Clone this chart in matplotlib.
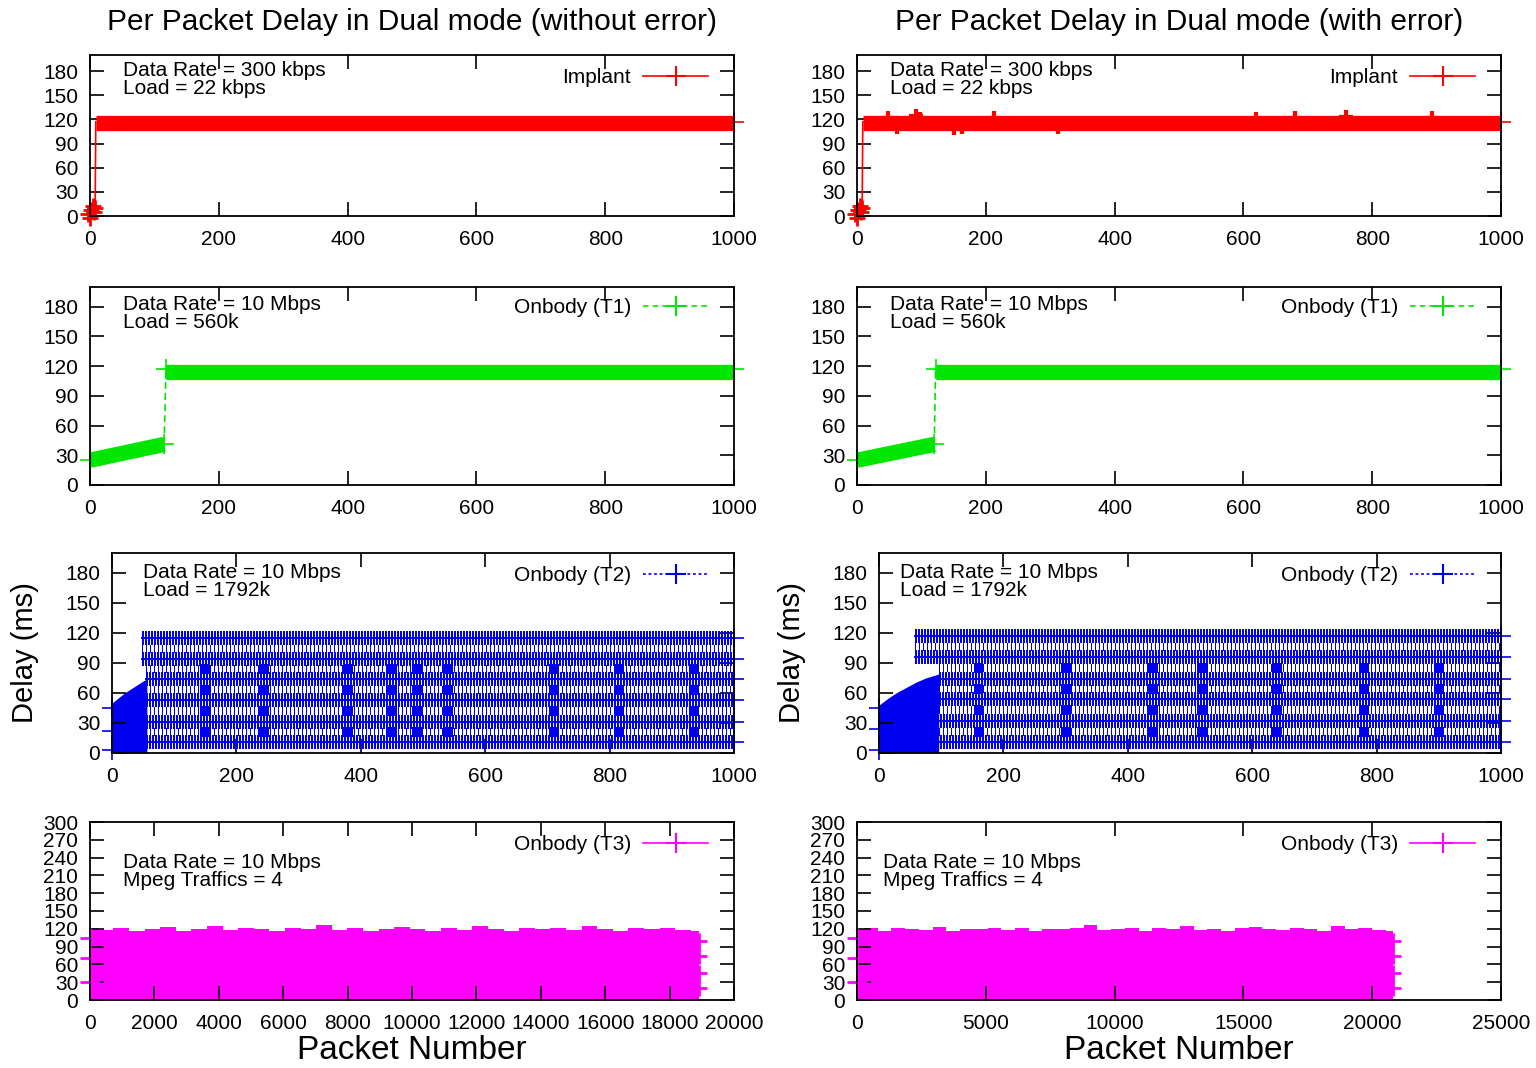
import numpy as np
import matplotlib.pyplot as plt
from matplotlib.lines import Line2D

plt.rcParams['font.family'] = ['Liberation Sans', 'DejaVu Sans']
plt.rcParams['lines.scale_dashes'] = False

W, H = 1536, 1068

# ---------------- data ----------------
# Implant, 300 kbps (first packets, jump, flat part)
imp_start_pkt = [-3, 0, 2, 4, 6, 8]
imp_start_delay = [3, -2, 8, 12, 5, 10]
imp_jump_pkt = [8, 9]
imp_jump_delay = [10, 117]
imp_flat_pkt = [9, 1000]
imp_flat_delay = [115, 115]
# small excursions of the flat part, "with error" run
imp_bump_pkt = [48, 62, 92, 98, 150, 163, 212, 312, 620, 680, 760, 893]
imp_bump_delay = [122, 110, 124, 121, 109, 110, 122, 110, 121, 122, 123, 122]

# Onbody T1, 560k load
t1_ramp_pkt = [0, 115]
t1_ramp_delay = [25, 41]
t1_jump_pkt = [115, 118]
t1_jump_delay = [41, 117]
t1_flat_pkt = [118, 1000]
t1_flat_delay = [114.5, 114.5]
t1_ramp_pkt_err = [0, 120]
t1_jump_pkt_err = [120, 122]
t1_flat_pkt_err = [122, 1000]

# Onbody T2, 1792k load: delay rows and the start-up ramp
t2_levels = [115, 94, 74, 53, 31, 11]
t2_row_start = [48, 48, 55, 55, 55, 55]
t2_ramp_pkt = [0, 10, 20, 30, 40, 50, 56]
t2_ramp_top = [50, 55, 60, 64, 68, 72, 74]
t2_edge_delay = [45, 22, 3]
t2_dense_pkt = [150, 245, 380, 450, 490, 540, 710, 815, 935]

t2_levels_err = [117, 96, 74, 54, 32, 11]
t2_row_start_err = [58, 58, 96, 96, 64, 64]
t2_ramp_pkt_err = [0, 15, 30, 45, 60, 75, 96]
t2_ramp_top_err = [48, 55, 61, 66, 71, 75, 79]
t2_edge_delay_err = [45, 24, 3]
t2_dense_pkt_err = [160, 300, 440, 520, 640, 780, 900]

# Onbody T3, 4 Mpeg traffics: upper edge of the delay cloud
t3_last_pkt = 18900
t3_top = [121, 118, 121, 116, 119, 123, 117, 120, 125, 118, 121, 119, 116, 122,
          120, 126, 118, 121, 117, 120, 123, 119, 116, 121, 118, 124, 120, 117,
          122, 119, 121, 118, 125, 120, 117, 122, 119, 121, 118, 116]
t3_last_pkt_err = 20800
t3_top_err = [120, 122, 117, 121, 119, 118, 123, 116, 120, 119, 122, 118, 121, 117,
              120, 119, 121, 126, 118, 120, 122, 117, 121, 119, 124, 118, 120, 117,
              121, 123, 119, 118, 122, 120, 117, 125, 119, 121, 118, 117]
t3_edge_delay = [105, 70, 30]
t3_right_delay = [100, 75, 45, 20]

RED, GREEN, BLUE, MAG = '#ff0000', '#00e600', '#0000f0', '#ff00ff'
FS = 15

fig = plt.figure(figsize=(W / 100, H / 100), dpi=100)


def make_ax(l, t, r, b):
    return fig.add_axes([l / W, 1 - b / H, (r - l) / W, (b - t) / H])


def style(ax, xmax, xstep, ymax, ystep, ytop):
    ax.set_xlim(0, xmax)
    ax.set_ylim(0, ytop)
    ax.set_xticks(np.arange(0, xmax + 1, xstep))
    ax.set_yticks(np.arange(0, ymax + 1, ystep))
    ax.tick_params(direction='in', length=10, width=1.2, top=True, right=True,
                   labelsize=FS)
    ax.tick_params(axis='x', pad=10)
    ax.tick_params(axis='y', pad=8.5)
    for s in ax.spines.values():
        s.set_linewidth(1.3)


def legend(ax, handle, label, px_x, px_y):
    ax.legend([handle], [label], loc='upper right', frameon=False, fontsize=FS,
              bbox_to_anchor=(px_x / W, 1 - px_y / H), bbox_transform=fig.transFigure,
              borderpad=0, borderaxespad=0, handlelength=3.1, handletextpad=0.6,
              markerfirst=False, numpoints=1)


def note(ax, txt, px_x, px_y):
    ax.text(px_x / W, 1 - px_y / H, txt, transform=fig.transFigure, fontsize=FS,
            va='top', ha='left', linespacing=0.93)


def hatch_row(ax, x0, x1, y, color, h=15, dashes=(1.44, 1.44), lw_h=1.4):
    # a row of '+' marks: vertical bars from a dash pattern plus the horizontal arm
    ax.plot([x0, x1], [y, y], color=color, lw=h * 0.72, dashes=dashes,
            dash_capstyle='butt', solid_capstyle='butt', antialiased=False)
    if lw_h:
        ax.plot([x0, x1], [y, y], color=color, lw=lw_h)


for col, dx in enumerate([0, 767]):
    err = col == 1
    # ---- panel 1: implant ----
    ax = make_ax(90 + dx, 55, 734 + dx, 216)
    style(ax, 1000, 200, 180, 30, 200)
    ax.plot(imp_start_pkt, imp_start_delay, color=RED, lw=2.5, marker='+', ms=12,
            mew=2, clip_on=False)
    ax.plot(imp_jump_pkt, imp_jump_delay, color=RED, lw=1.2)
    ax.plot(imp_flat_pkt, imp_flat_delay, color=RED, lw=11, solid_capstyle='butt')
    ax.plot([imp_flat_pkt[-1]], [imp_jump_delay[-1]], color=RED, marker='+', ms=14,
            mew=1.2, clip_on=False)
    if err:
        ax.plot(imp_bump_pkt, imp_bump_delay, ls='none', color=RED, marker='+',
                ms=10, mew=3)
    note(ax, 'Data Rate = 300 kbps\nLoad = 22 kbps', 123 + dx, 61)
    legend(ax, Line2D([], [], color=RED, lw=1.2, marker='+', ms=14, mew=1.5),
           'Implant', 708 + dx, 68)

    # ---- panel 2: T1 ----
    ax = make_ax(90 + dx, 287, 734 + dx, 485)
    style(ax, 1000, 200, 180, 30, 200)
    rp = t1_ramp_pkt_err if err else t1_ramp_pkt
    jp = t1_jump_pkt_err if err else t1_jump_pkt
    fp = t1_flat_pkt_err if err else t1_flat_pkt
    ax.plot(rp, t1_ramp_delay, color=GREEN, lw=11, solid_capstyle='butt')
    ax.plot(jp, t1_jump_delay, color=GREEN, lw=1.2, ls=(0, (5, 3)), marker='+',
            ms=14, mew=1.2)
    ax.plot(fp, t1_flat_delay, color=GREEN, lw=11, solid_capstyle='butt')
    ax.plot([rp[0], fp[-1]], [t1_ramp_delay[0], t1_jump_delay[-1]], ls='none',
            color=GREEN, marker='+', ms=14, mew=1.2, clip_on=False)
    note(ax, 'Data Rate = 10 Mbps\nLoad = 560k', 123 + dx, 295)
    legend(ax, Line2D([], [], color=GREEN, lw=1.2, ls=(0, (4, 3)), marker='+',
                      ms=14, mew=1.5), 'Onbody (T1)', 708 + dx, 298)

    # ---- panel 3: T2 ----
    ax = make_ax(112 + dx, 553, 734 + dx, 753)
    style(ax, 1000, 200, 180, 30, 200)
    levels = t2_levels_err if err else t2_levels
    starts = t2_row_start_err if err else t2_row_start
    rpk = t2_ramp_pkt_err if err else t2_ramp_pkt
    rtop = t2_ramp_top_err if err else t2_ramp_top
    edge = t2_edge_delay_err if err else t2_edge_delay
    dense = t2_dense_pkt_err if err else t2_dense_pkt
    ax.fill_between(rpk, 0, rtop, color=BLUE, lw=0)
    for y, x0 in zip(levels, starts):
        hatch_row(ax, x0, 1000, y, BLUE, h=14)
    for y0, y1, x0 in zip(levels[:-1], levels[1:], starts[1:]):
        hatch_row(ax, x0, 1000, (y0 + y1) / 2, BLUE, h=8,
                  dashes=(0.72, 2.88), lw_h=0)
    for p in dense:
        for y0, y1 in zip(levels[1:5], levels[2:6]):
            hatch_row(ax, p - 8, p + 8, (y0 + y1) / 2, BLUE, h=10,
                      dashes=(2.16, 0.72), lw_h=0)
    ax.plot([0] * len(edge), edge, ls='none', color=BLUE, marker='+', ms=14,
            mew=1.2, clip_on=False)
    ax.plot([1000] * len(levels), levels, ls='none', color=BLUE, marker='+',
            ms=14, mew=1.2, clip_on=False)
    note(ax, 'Data Rate = 10 Mbps\nLoad = 1792k', 143 + dx - (10 if err else 0), 563)
    legend(ax, Line2D([], [], color=BLUE, lw=1.2, ls=(0, (2, 2)), marker='+',
                      ms=14, mew=1.5), 'Onbody (T2)', 708 + dx, 566)
    ax.set_ylabel('Delay (ms)', fontsize=21)
    ax.yaxis.set_label_coords((39 + dx) / W, 1 - 653 / H, transform=fig.transFigure)

    # ---- panel 4: T3 ----
    ax = make_ax(90 + dx, 822, 734 + dx, 1000)
    if err:
        style(ax, 25000, 5000, 300, 30, 300)
        top, last = t3_top_err, t3_last_pkt_err
    else:
        style(ax, 20000, 2000, 300, 30, 300)
        top, last = t3_top, t3_last_pkt
    pk = np.linspace(0, last, len(top))
    ax.fill_between(pk, 0, top, step='mid', color=MAG, lw=0)
    ax.plot([0] * len(t3_edge_delay), t3_edge_delay, ls='none', color=MAG,
            marker='+', ms=14, mew=2, clip_on=False)
    ax.plot([last] * len(t3_right_delay), t3_right_delay, ls='none', color=MAG,
            marker='+', ms=12, mew=2)
    note(ax, 'Data Rate = 10 Mbps\nMpeg Traffics = 4', (123 if not err else 116) + dx,
         853)
    legend(ax, Line2D([], [], color=MAG, lw=1.2, marker='+', ms=14, mew=1.5),
           'Onbody (T3)', 708 + dx, 835)
    ax.set_xlabel('Packet Number', fontsize=24)
    ax.xaxis.set_label_coords((412 + dx) / W, 1 - 1035 / H, transform=fig.transFigure)

fig.text(412 / W, 1 - 22 / H, 'Per Packet Delay in Dual mode (without error)',
         ha='center', va='center', fontsize=21.5)
fig.text(1179 / W, 1 - 22 / H, 'Per Packet Delay in Dual mode (with error)',
         ha='center', va='center', fontsize=21.5)

fig.savefig('out.png', dpi=100)
